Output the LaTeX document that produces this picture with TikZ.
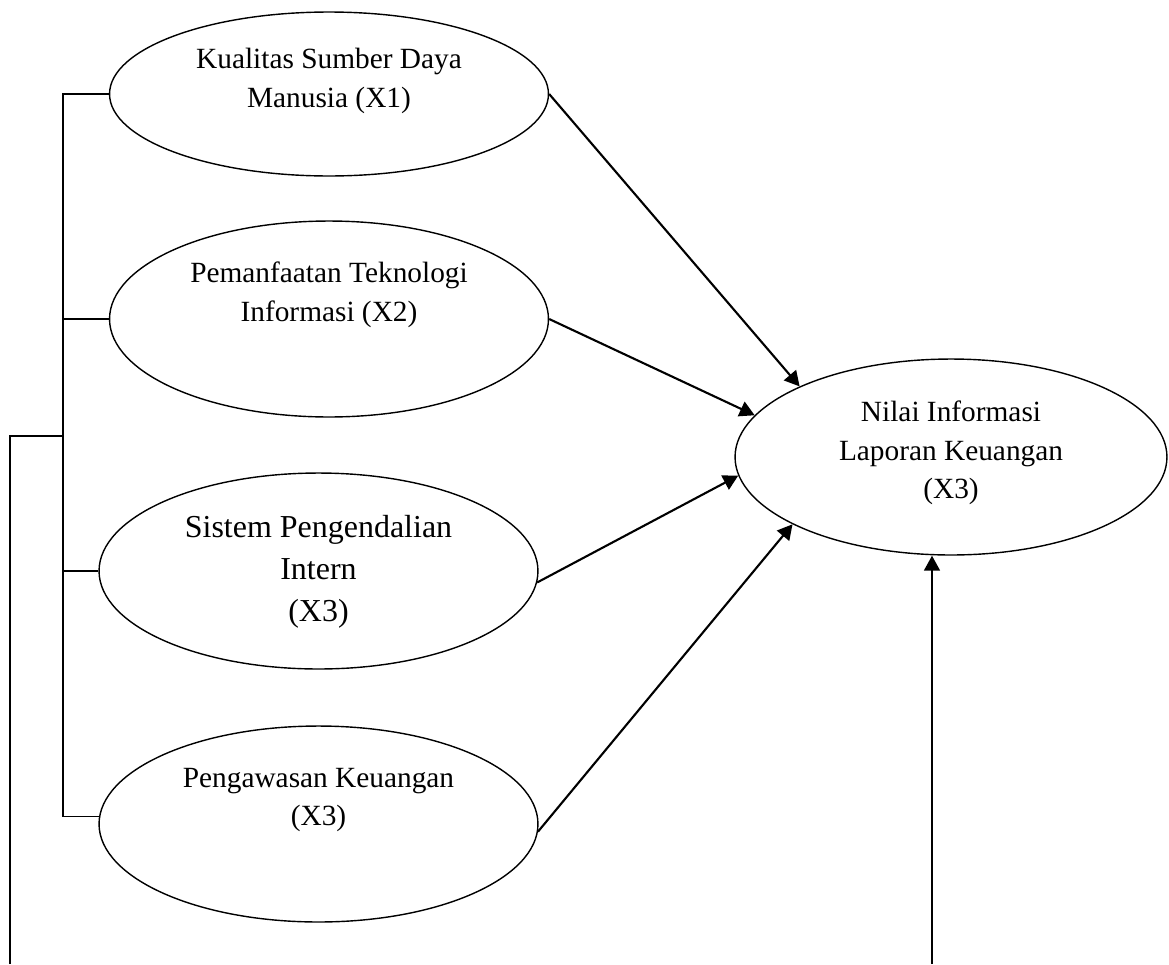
\documentclass[tikz,border=0pt]{standalone}
\usepackage{fontspec}
\setmainfont{Liberation Serif}
\usepackage{tikz}
\usetikzlibrary{shapes.geometric,arrows.meta,positioning}
\newcommand{\lbl}{\fontsize{16.7}{22}\selectfont}
\newcommand{\lblbig}{\fontsize{18.2}{24}\selectfont}

\begin{document}
\begin{tikzpicture}[x=0.02cm,y=-0.02cm,
  var/.style={draw,ellipse,line width=0.8pt,inner sep=0pt,minimum width=8.78cm,minimum height=3.92cm},
  txt/.style={align=center,inner sep=0pt,font=\lbl},
  ln/.style={line width=0.8pt},
  arr/.style={line width=1.2pt,-{Triangle[length=8.5pt,width=9pt]}}]
\useasboundingbox (0,0) rectangle (1169,964);
\node[var,minimum height=3.28cm] (e1) at (329,94) {};
\node[var] (e2) at (329,319) {};
\node[var] (e3) at (318.5,571) {};
\node[var] (e4) at (318.5,824) {};
\node[var,minimum width=8.64cm] (e5) at (951,457) {};
\node[txt] (t1) at (329,81) {Kualitas Sumber Daya\\Manusia (X1)};
\node[txt] (t2) at (329,295) {Pemanfaatan Teknologi\\Informasi (X2)};
\node[txt,font=\lblbig] (t3) at (318.5,572) {Sistem Pengendalian\\Intern\\(X3)};
\node[txt] (t4) at (318.5,800) {Pengawasan Keuangan\\(X3)};
\node[txt] (t5) at (951,453) {Nilai Informasi\\Laporan Keuangan\\(X3)};
\coordinate (bus) at (63,436);
\coordinate (fl) at (10,964);
\coordinate (fb) at (932,964);
\draw[ln] (e1.west) -- (e1.west -| bus) -- (e4.178 -| bus) -- (e4.178);
\draw[ln] (e2.west) -- (e2.west -| bus);
\draw[ln] (e3.west) -- (e3.west -| bus);
\draw[ln] (fl) |- (bus);
\path[arr]
(e1.east) edge (e5.155)
(e2.east) edge (e5.168)
(e3.-3) edge (e5.185)
(e4.-2) edge (e5.203);
\draw[arr] (fb) -- (fb |- e5.south);
\end{tikzpicture}
\end{document}
